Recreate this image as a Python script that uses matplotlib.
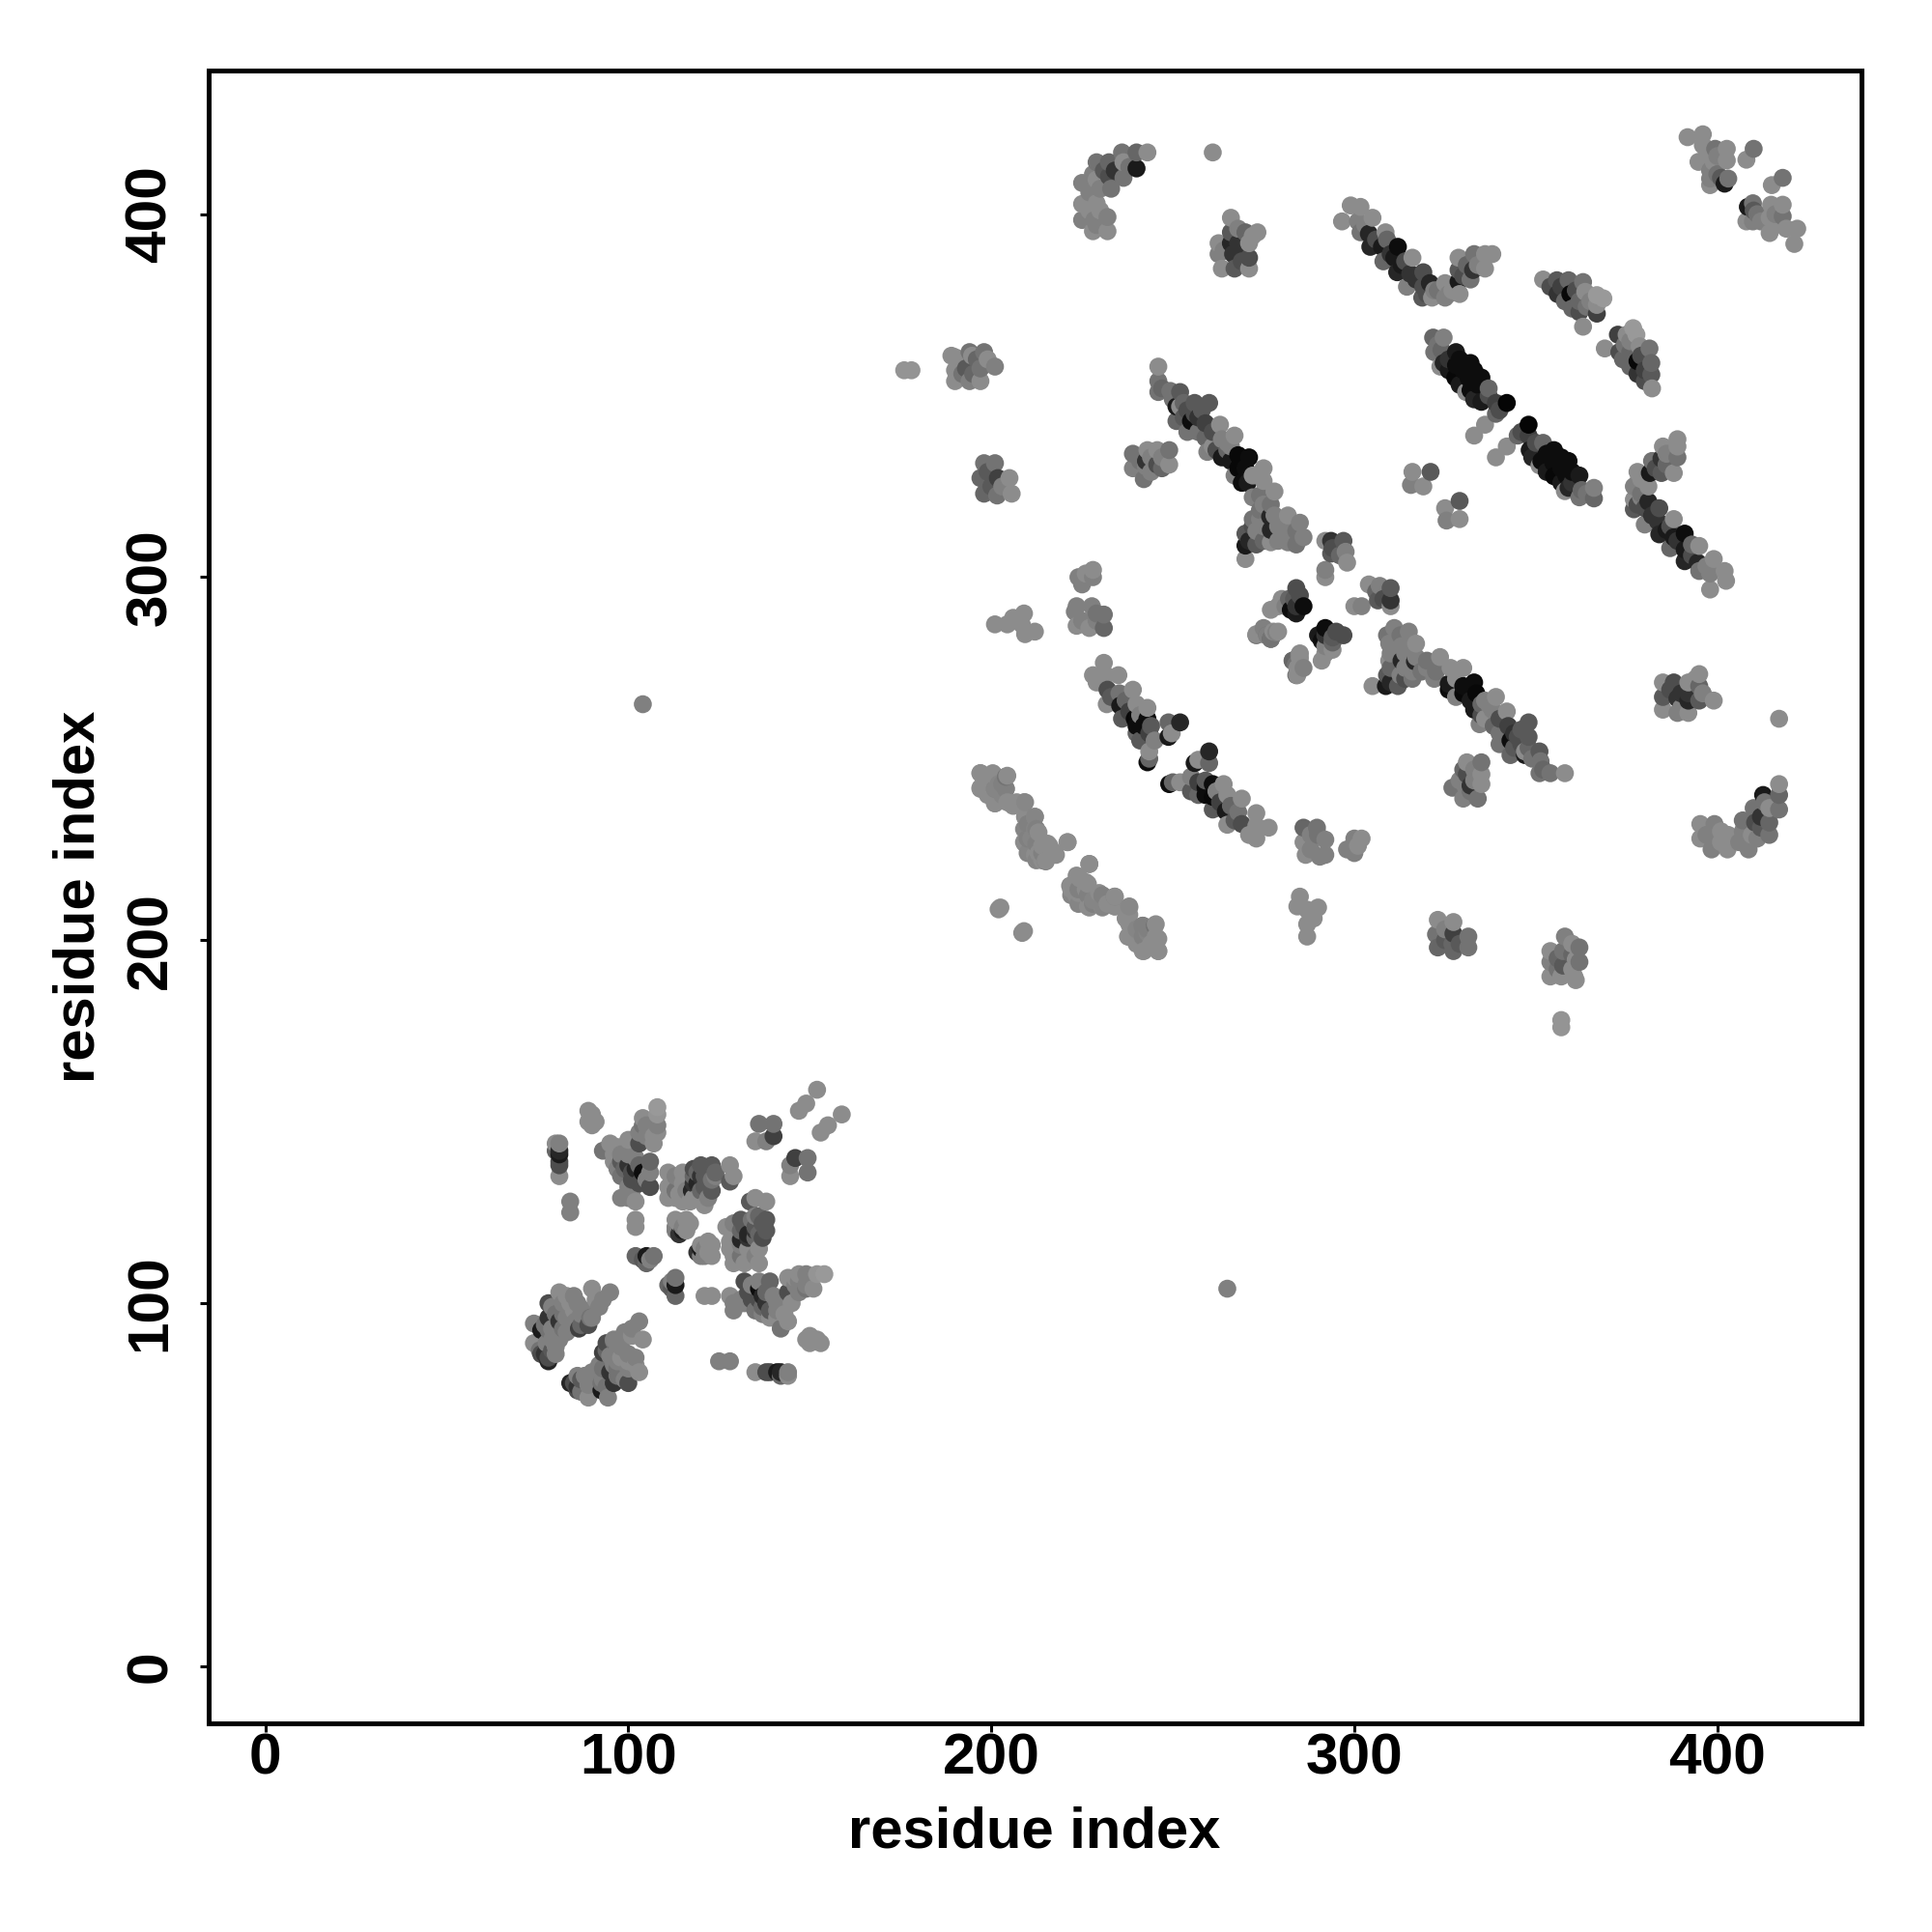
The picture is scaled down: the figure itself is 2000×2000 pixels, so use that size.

import matplotlib
matplotlib.use("Agg")
import matplotlib.pyplot as plt
import numpy as np

# -- low domain ------------------------------------------------------------- #
low_far = [
    (89, 153, .55), (90, 152, .55), (89, 150, .55), (90, 149, .55), (91, 150, .55),
    (80, 144, .55), (81, 144, .5), (80, 142, .4), (81, 141, .1), (81, 142, .15),
    (81, 139, .3), (81, 138, .3), (81, 135, .55), (84, 128, .5), (84, 125, .5),
    (102, 123, .55), (102, 121, .55), (102, 113, .4), (105, 113, .1), (107, 113, .45),
    (105, 111, .4), (113, 123, .55), (116, 123, .55), (113, 121, .5), (115, 120, .1),
    (113, 120, .5), (114, 122, .55), (115, 121, .5), (116, 120, .55), (114, 119, .2),
    (117, 122, .55), (104, 112, .35), (106, 112, .5),
]
low_mid = [
    (123, 138, .35), (120, 138, .35), (118, 137, .3), (123, 134, .45), (123, 131, .35),
    (120, 131, .4), (111, 136, .55), (115, 136, .55), (111, 132, .55), (111, 129, .55),
    (115, 133, .55), (115, 128, .55), (121, 127, .55), (118, 133, .2), (117.5, 131, .15),
    (113, 135, .5), (118, 135, .4), (128, 138, .55), (129, 135, .55), (128, 133.5, .35),
    (108, 154, .6), (108, 152, .58), (108, 149, .5), (104, 151, .55), (104, 149, .45),
    (107, 146, .55), (103, 144, .3), (100, 145, .55), (95, 144, .55), (93, 142, .45),
    (96, 139, .55), (98, 139, .35), (100, 138, .2), (102, 140, .5), (106, 139, .4),
    (102, 137, .15), (104, 136, .05), (106, 136, .5), (106, 132, .3), (98, 135, .45),
    (101, 134, .3), (98, 129, .5), (102, 128, .55), (101, 131, .5),
    (96, 141, .55), (97, 143, .55), (98, 141, .5), (100, 141, .5), (101, 136, .3),
    (103, 138, .4), (105, 134, .5), (103, 133, .3), (100, 132, .5), (99, 137, .4),
    (97, 137, .5), (100, 129, .5), (105, 146, .5), (105, 149, .5), (106, 147, .5),
    (107, 144, .55), (103, 147, .5), (108, 147, .55),
    (112, 134, .55), (114, 130, .55), (113, 129, .55), (116, 130, .55), (117, 128, .55),
    (119, 129, .55), (122, 129, .5), (119, 136, .4), (121, 135, .35), (122, 137, .35),
    (119, 133, .15), (120, 135, .2), (113, 131, .45), (116, 131, .5), (118, 129, .55),
    (121, 132, .35), (124, 135, .5), (124, 136, .4),
]
low_near = [
    (74, 94.4, .5), (74, 89, .55), (76, 92.6, .1), (78, 100, .3), (81, 103, .55),
    (78, 96, .2), (81, 95, .2), (76, 86, .3), (78, 84, .15), (80, 86, .5),
    (81, 90, .5), (84, 100, .55), (86, 100, .5), (85.5, 95, .5), (86.4, 93, .25),
    (89, 94, .3), (90, 104, .55), (92, 99, .5), (95, 103, .5), (89.5, 96, .45),
    (82, 97, .45), (83, 96, .5), (77.5, 89, .5), (75.6, 87, .45), (78, 92.6, .45),
    (77, 94, .45), (79, 93, .5), (80, 97, .45), (79, 99, .5), (82, 100, .5),
    (82, 93, .45), (83, 92, .5), (84, 97, .5), (85, 98, .55), (87, 97, .5),
    (88, 98, .5), (87, 94, .4), (90, 96, .5), (91, 101, .55), (93, 101, .5),
    (79, 90, .5), (77, 86, .2), (79, 87, .35), (80, 88, .5), (81, 92, .5),
    (78, 85, .3), (83, 102, .55), (85, 102, .5),
    (152, 158.8, .55), (149, 155, .55), (147, 153, .55),
    (136, 149.4, .45), (140, 149.4, .45), (140, 146, .25), (135, 144.6, .55), (138, 144.6, .5),
]

# -- high domain, blocks away from the main strands ---------------------------- #
top_blocks = [
    (243, 417, .55), (240, 417, .4), (236, 417, .45), (240, 412.6, .1), (236.4, 414.3, .55),
    (232.4, 414.3, .4), (229, 414.3, .45), (236.4, 410, .45), (232.4, 410.4, .3), (229, 409.5, .55),
    (225, 408.6, .5), (233, 407, .45), (225, 402.8, .55), (229, 403, .55), (225, 398.4, .5),
    (232, 399.2, .5), (228.4, 398.4, .5), (228, 395.3, .55), (232, 395.3, .55),
    (228, 411, .5), (231, 412, .35), (234, 412, .2), (238, 413, .45), (227, 406, .5),
    (230, 407, .5), (227, 401, .55), (230, 401, .55), (229, 397, .5),
    (261, 417, .55),
    (266, 399, .55), (266, 395, .35), (270, 395, .4), (273.3, 395, .55), (262.6, 392, .55),
    (266, 392, .15), (271, 392, .55), (262.6, 389, .5), (266.6, 389, .2), (271, 388, .3),
    (263.5, 385, .55), (267, 385, .35), (271, 385, .55),
    (264, 390, .5), (268, 392, .2), (268, 390, .2), (269, 387, .3), (268, 396, .5), (272, 394, .55),
]
mid_blocks = [
    (176, 357, .58), (178, 357, .58),
    (189, 361, .55), (190, 360.6, .55), (194, 362, .45), (198, 362, .45), (194.7, 361, .55),
    (190, 357, .55), (193, 357.5, .35), (197, 357.5, .45), (201, 358, .5), (190, 354, .55),
    (194, 354, .5), (197, 354, .55),
    (192, 360, .55), (196, 360, .4), (192, 356, .45), (195, 356, .4), (199, 360, .55),
    (198, 331.4, .45), (201, 331.4, .45), (197, 327.3, .4), (201.8, 327.3, .25), (205, 327.3, .55),
    (198, 323, .4), (201.6, 322.5, .45), (205.6, 323, .55),
    (199, 327, .4), (199, 329, .35), (200, 325, .35), (203, 325, .5),
    (239, 334, .45), (243, 335, .55), (245.7, 335, .55), (249, 335, .45), (249, 331, .55),
    (242.6, 332, .2), (245.7, 331, .3), (239, 330, .5), (242, 327, .45), (242.6, 330.5, .5),
    (241, 332, .45), (244, 333, .5), (247, 333, .5), (247, 330, .4), (244, 329, .5),
    (316, 329, .55), (321, 329, .35), (315.6, 325.4, .5), (319, 325, .55),
    (104, 265, .5),
]
low_blocks = [
    (224, 300, .5), (228, 302, .55), (228, 300, .5), (223.5, 292, .5), (227.7, 292, .5),
    (231, 289.7, .45), (223.5, 286.6, .55), (227, 286, .55), (231, 286, .4), (223, 290.5, .5),
    (225, 288, .5), (229, 288, .5), (225, 298, .5), (229, 290, .45), (226, 301, .55),
    (201, 287, .55), (204.4, 287, .55), (206, 288.8, .55), (209, 290, .55), (209.3, 284.3, .55),
    (212, 285, .55), (208.4, 287, .55), (202.5, 209, .55), (202, 208.5, .55),
]

# -- high domain, strands ---------------------------------------------------- #
strand_long = [
    (246, 358, .55), (246, 354, .45), (246, 351, .45), (252, 351, .35), (249.3, 351.3, .45),
    (256, 348, .35), (260, 348, .35), (251, 347, .1), (252, 347, .55), (251, 343, .4),
    (255, 343, .05), (256, 345, .3), (259, 342.4, .25), (263, 342, .55), (267, 339, .55),
    (263.5, 338, .5), (259, 338.4, .4), (259.5, 334.5, .5), (263.5, 333, .1), (268, 333.6, .03),
    (271, 333, .05), (268, 330, .03), (270, 330, .05), (275, 330, .55), (275, 326.5, .55),
    (270.6, 326, .1), (278, 323.6, .55), (274, 322.5, .45), (274, 318.5, .45), (281.7, 317, .55),
    (278, 317, .5), (276.8, 316.7, .15), (284, 312.7, .45), (270, 312, .35), (270, 308.7, .1),
    (270, 305, .55), (273, 309, .35), (273, 312.7, .5), (277, 309.6, .55), (277, 313, .15),
    (284, 309, .45), (281.7, 309.6, .5), (274, 316, .5),
    (247, 352, .4), (250, 349, .45), (253, 348, .4), (254, 346, .3), (253, 344, .35),
    (257, 344, .2), (258, 346, .35), (254, 340, .45), (257, 340, .45), (261, 340, .3),
    (261, 336, .55), (265, 337, .5), (262, 335, .3), (265, 335, .4), (266, 336, .5),
    (266, 332, .1), (267, 328, .5), (269, 326, .05), (272, 328, .55), (272, 322, .5),
    (275, 320, .5), (277, 320, .45), (272, 314, .3), (275, 314, .5), (279, 314, .5),
    (281, 313, .5), (272, 316, .45), (279, 310, .5), (275, 310, .4), (271, 310, .15),
    (286, 311, .5), (285, 315, .5),
]
centre_cross = [
    (284, 297, .3), (283.4, 294, .35), (286, 292, .05), (282.5, 291, .05), (280, 294, .55),
    (277, 291, .55), (273, 284.3, .55), (278.5, 284.8, .5), (277, 283, .4), (275, 284.3, .55),
    (285, 277.7, .55), (283, 277, .45), (284, 273, .45), (285, 279, .55),
    (284, 292, .2), (285, 295, .3), (282, 294, .4), (281, 292, .5), (279, 292, .55),
    (284, 290, .1), (276, 284, .45), (284, 276, .5), (286, 275, .5),
    (292, 302, .5), (292, 300, .55), (292, 310, .55), (293.6, 310, .2), (297, 310, .35),
    (293.6, 306.5, .35), (297.6, 307, .5), (298, 304, .55), (294, 308, .3), (296, 306, .4),
]
strand_upper = [
    (296.6, 398, .55), (299, 402.4, .55), (301.7, 402, .55), (305, 399, .55), (301, 398, .5),
    (301.7, 395, .45), (304, 394.6, .15), (308.6, 395, .55), (304.4, 391, .15), (307.6, 391, .1),
    (312, 391, .05), (308, 387, .4), (311, 388, .1), (316, 388, .55), (311.8, 384, .15),
    (315.4, 383.6, .2), (319, 384, .3), (314.5, 380, .5), (320.8, 381, .15), (318.7, 377, .35),
    (321.4, 377, .55), (325, 381, .55), (325, 377, .5), (328.7, 388, .55), (328.7, 384.6, .35),
    (328.7, 381.4, .1), (329, 378, .55), (333, 389, .45), (336, 389, .55), (338, 389, .55),
    (332.7, 384.6, .2), (332, 382, .45), (336, 385, .55),
    (303, 397, .5), (306, 393, .3), (309, 393, .4), (310, 389, .2), (313, 386, .1),
    (314, 387, .3), (317, 382, .2), (319, 380, .3), (322, 379, .5), (323, 379, .45),
    (327, 379, .55), (330, 383, .3), (331, 386, .4), (334, 386, .5), (326, 378, .5), (320, 378, .3),
]
strand_corner = [
    (352, 382, .55), (355.8, 381.8, .35), (359, 381.8, .4), (363, 381.3, .45), (356, 378, .2),
    (359.5, 378, .03), (363.6, 378.6, .55), (366.8, 377.7, .6), (368.6, 376.8, .6), (360, 374, .4),
    (364, 374.5, .45), (366.8, 375, .55), (366.8, 372.6, .25), (363, 369, .55),
    (354, 380, .3), (357, 380, .25), (361, 379, .3), (358, 376, .4), (362, 376, .4),
    (365, 376, .5), (362, 373, .3),
    (391.8, 421.2, .55), (396, 422, .55), (396, 419, .55), (394.8, 414.4, .55), (399.4, 418, .45),
    (402.6, 418, .55), (399, 414.4, .55), (402.6, 414.8, .55), (398, 409.8, .5), (402, 408.4, .1),
    (403, 409.8, .45), (398, 408, .55), (410, 418, .45), (408, 415, .55),
    (400, 416, .5), (397, 416, .55), (398, 412, .5), (400, 411, .45), (401, 410, .35),
]
strand_main = [
    (321.7, 366, .4), (324.6, 366, .5), (322, 362, .45), (324, 362.6, .4), (328, 362, .1),
    (324.6, 359, .15), (332, 359, .05), (328, 358.4, .05), (323.7, 358, .55), (327.8, 355, .03),
    (331.5, 354.8, .05), (335, 355, .05), (337, 352, .4), (332, 351.5, .05), (330.8, 351, .55),
    (335, 348.3, .1), (339, 348, .25), (342, 348, .02), (339, 345, .4), (336, 342, .55),
    (333, 339, .55),
    (323, 364, .45), (326, 360, .2), (329, 360, .05), (330, 357, .05), (326, 357, .1),
    (333, 357, .05), (329, 353, .1), (334, 353, .05), (333, 349, .15), (337, 350, .3), (340, 346, .3),
]
strand_hairpin = [
    (231, 276.4, .55), (228, 273, .55), (231.5, 273, .55), (235, 273, .55), (232, 269, .3),
    (235.3, 268, .45), (239, 269, .55), (231.8, 265, .55), (235.5, 264.6, .1), (240, 265, .55),
    (243, 264, .55), (236, 261, .35), (239.5, 261, .03), (243, 261, .05), (240, 257, .4),
    (243.5, 257, .25), (248.8, 260, .4), (252, 260, .15), (249.7, 257, .55), (248.8, 256, .1),
    (243.5, 252, .55), (243, 249, .05), (243.5, 250, .4),
    (233, 267, .35), (237, 266, .4), (238, 263, .25), (241, 262, .5), (242, 259, .05),
    (240, 259, .05), (244, 259, .35), (241, 255, .35), (245, 255, .5), (229, 271, .55),
]
strand_pale = [
    (197, 246, .55), (200.4, 246, .55), (204, 245, .45), (197, 242, .55), (201, 241.7, .5),
    (204, 241.7, .5), (201, 237.7, .55), (204.4, 238, .55), (209, 238, .55), (209.3, 234, .55),
    (212, 234, .55), (209, 230.6, .55), (212, 230.6, .52), (209, 227, .55), (213, 229.7, .55),
    (215.5, 226.6, .55), (221, 227, .55), (212, 223.5, .55), (215, 222, .55), (217, 224.4, .55),
    (227, 221, .55), (223.5, 217.8, .55), (226, 216, .55), (221.7, 215, .52), (222, 212.4, .52),
    (226.6, 212.4, .5), (226.6, 209.3, .55), (230.6, 212.4, .5), (230.6, 209.3, .52), (234, 212, .52),
    (234, 209.3, .55), (238, 209.3, .53), (237.7, 205.3, .55), (237.7, 201, .55), (241.7, 204, .5),
    (245.3, 204.4, .55), (241.7, 201, .52), (245.3, 201, .55), (241.7, 197, .55), (246, 197, .55),
    (199, 244, .55), (203, 243, .5), (206, 237, .55), (210, 232, .55), (211, 228, .52),
    (214, 226, .55), (213, 224, .55), (222, 214, .55), (224, 214, .5), (224, 210, .52),
    (228, 210, .5), (232, 210, .5), (238, 207, .55), (240, 203, .52), (243, 202, .52),
    (244, 198, .55), (240, 199, .55),
]

tick_values = [0, 100, 200, 300, 400]
axis_label = "residue index"

all_contacts = np.array(low_far + low_mid + low_near + top_blocks + mid_blocks + low_blocks
                        + strand_long + centre_cross + strand_upper + strand_corner
                        + strand_main + strand_hairpin + strand_pale)

plt.rcParams["font.family"] = ["Liberation Sans", "DejaVu Sans"]
plt.rcParams["font.weight"] = "bold"

# the map is symmetric, every contact shows on both sides of the diagonal
x = np.r_[all_contacts[:, 0], all_contacts[:, 1]]
y = np.r_[all_contacts[:, 1], all_contacts[:, 0]]
grey = np.r_[all_contacts[:, 2], all_contacts[:, 2]]
order = np.lexsort((y, x))  # residue by residue, as a contact table would list them

fig = plt.figure(figsize=(20, 20), dpi=100)
ax = fig.add_axes([216 / 2000, 216.5 / 2000, 1711 / 2000, 1711 / 2000])
ax.scatter(x[order], y[order], s=180, c=[str(v) for v in grey[order]], linewidths=0)
ax.set_xlim(-15.6, 439.7)
ax.set_ylim(-15.6, 439.7)
ax.set_xticks(tick_values)
ax.set_yticks(tick_values)
ax.tick_params(axis="both", length=6.5, width=2.2, labelsize=43.5)
ax.tick_params(axis="x", pad=1)
ax.tick_params(axis="y", pad=16.5)
plt.setp(ax.get_yticklabels(), rotation=90, va="center")
for s in ax.spines.values():
    s.set_linewidth(3.6)
ax.set_xlabel(axis_label, fontsize=43, fontweight="bold")
ax.set_ylabel(axis_label, fontsize=43, fontweight="bold")
ax.xaxis.set_label_coords(0.4997, -0.050)
ax.yaxis.set_label_coords(-0.0623, 0.5)
fig.savefig("out.png", dpi=100)
